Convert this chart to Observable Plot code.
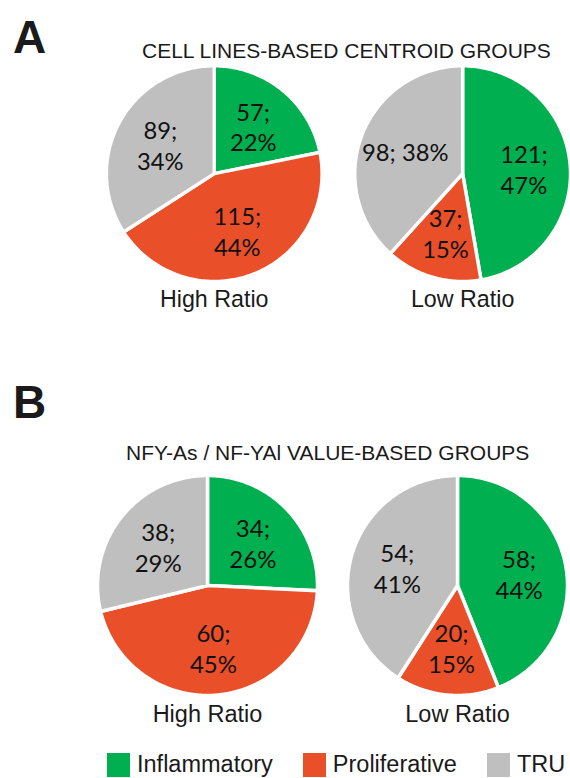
<!DOCTYPE html>
<html>
<head>
<meta charset="utf-8">
<script src="https://cdn.jsdelivr.net/npm/d3@7"></script>
<script src="https://cdn.jsdelivr.net/npm/@observablehq/plot@0.6"></script>
<style>
  body { margin: 0; background: #fff; }
  #figure {
    position: relative; width: 570px; height: 778px; overflow: hidden;
    background: #fff; color: #1a1a1a;
    font-family: "Liberation Sans", Arial, sans-serif;
  }
  .panel-letter { position: absolute; left: 13px; font-weight: bold; font-size: 46px; line-height: 1; }
  .panel-title { position: absolute; font-size: 21px; line-height: 1; white-space: nowrap; }
  .pies { position: absolute; left: 0; }
  .pies svg { display: block; }
  #legend { position: absolute; left: 107px; top: 748px; width: 470px; }
  .key-swatches-wrap { flex-wrap: nowrap !important; margin: 0 !important; }
  .key-swatch { margin-right: 30px !important; }
  .key-swatch > svg { margin-right: 7px !important; }
</style>
</head>
<body>
<div id="figure">
  <div class="panel-letter" style="top:14px">A</div>
  <div class="panel-title" style="top:40px; left:142px">CELL LINES-BASED CENTROID GROUPS</div>
  <div class="pies" id="pies-a" style="top:0"></div>
  <div class="panel-letter" style="top:379px">B</div>
  <div class="panel-title" style="top:442px; left:126px">NFY-As / NF-YAl VALUE-BASED GROUPS</div>
  <div class="pies" id="pies-b" style="top:400px"></div>
  <div id="legend"></div>
</div>
<script>
// Subtypes, in the clockwise order they are stacked from 12 o'clock
const groups = ["Inflammatory", "Proliferative", "TRU"];
const groupColors = ["#00b050", "#e9502a", "#bfbfbf"];
const ratios = ["High Ratio", "Low Ratio"];

// A: cell lines-based centroid groups (sample counts and rounded shares)
const centroidHigh = [57, 115, 89];
const centroidHighPct = [22, 44, 34];
const centroidLow = [121, 37, 98];
const centroidLowPct = [47, 15, 38];

// B: NFY-As / NF-YAl value-based groups
const nfyHigh = [34, 60, 38];
const nfyHighPct = [26, 45, 29];
const nfyLow = [58, 20, 54];
const nfyLowPct = [44, 15, 41];

const pie = d3.pie().sort(null).value(d => d.count);

// One record per slice, with its angular extent and its "count; share" label
function slices(ratio, counts, pcts, oneLine = []) {
  const rows = groups.map((group, i) => ({ratio, group, count: counts[i], pct: pcts[i]}));
  return pie(rows).map(a => ({
    ...a.data,
    a0: a.startAngle,
    a1: a.endAngle,
    mid: (a.startAngle + a.endAngle) / 2,
    text: `${a.data.count};${oneLine.includes(a.data.group) ? " " : "\n"}${a.data.pct}%`
  }));
}

// Closed outline of a slice on the unit circle: centre, arc, back to centre
function outline(s) {
  const n = Math.max(2, Math.ceil((s.a1 - s.a0) / (Math.PI / 180)));
  const pts = [{x: 0, y: 0}];
  for (let k = 0; k <= n; ++k) {
    const a = s.a0 + (s.a1 - s.a0) * k / n;
    pts.push({x: Math.sin(a), y: Math.cos(a)});
  }
  pts.push({x: 0, y: 0});
  return pts.map(p => ({...p, ratio: s.ratio, group: s.group, key: `${s.ratio}/${s.group}`}));
}

function piePanel(sl, o) {
  return Plot.plot({
    width: o.width,
    height: o.height,
    marginTop: o.marginTop,
    marginRight: o.marginRight,
    marginBottom: o.marginBottom,
    marginLeft: o.marginLeft,
    style: {
      fontFamily: '"Liberation Sans", Arial, sans-serif',
      fontSize: "23.5px",
      color: "#1a1a1a",
      background: "transparent",
      overflow: "visible"
    },
    x: {domain: [-1, 1], axis: null},
    y: {domain: [-1, 1], axis: null},
    fx: {
      domain: ratios,
      paddingInner: o.paddingInner,
      paddingOuter: 0,
      axis: "bottom",
      tickSize: 0,
      tickPadding: o.tickPadding,
      label: null
    },
    color: {domain: groups, range: groupColors},
    marks: [
      Plot.line(sl.flatMap(outline), {
        fx: "ratio", x: "x", y: "y", z: "key",
        fill: "group", stroke: "white", strokeWidth: 3.5,
        strokeLinejoin: "miter", strokeLinecap: "butt", strokeMiterlimit: 4
      }),
      Plot.text(sl, {
        fx: "ratio",
        x: s => 0.57 * Math.sin(s.mid),
        y: s => 0.57 * Math.cos(s.mid),
        text: "text",
        fontSize: 24,
        fontFamily: "Lato, 'Open Sans', sans-serif",
        lineHeight: 1.3,
        fill: "#111"
      })
    ]
  });
}

const slicesA = [
  ...slices("High Ratio", centroidHigh, centroidHighPct),
  ...slices("Low Ratio", centroidLow, centroidLowPct, ["TRU"])
];
const slicesB = [
  ...slices("High Ratio", nfyHigh, nfyHighPct),
  ...slices("Low Ratio", nfyLow, nfyLowPct)
];

document.getElementById("pies-a").append(piePanel(slicesA, {
  width: 576, height: 320, marginTop: 66, marginBottom: 36,
  marginLeft: 107, marginRight: 0, paddingInner: 0.1315, tickPadding: 9
}));
document.getElementById("pies-b").append(piePanel(slicesB, {
  width: 570, height: 330, marginTop: 75, marginBottom: 35,
  marginLeft: 97, marginRight: 3, paddingInner: 0.12, tickPadding: 10
}));

document.getElementById("legend").append(Plot.legend({
  color: {type: "ordinal", domain: groups, range: groupColors},
  legend: "swatches",
  swatchWidth: 23,
  swatchHeight: 24,
  className: "key",
  style: {
    fontFamily: '"Liberation Sans", Arial, sans-serif',
    fontSize: "23.5px",
    color: "#1a1a1a"
  }
}));
</script>
</body>
</html>
